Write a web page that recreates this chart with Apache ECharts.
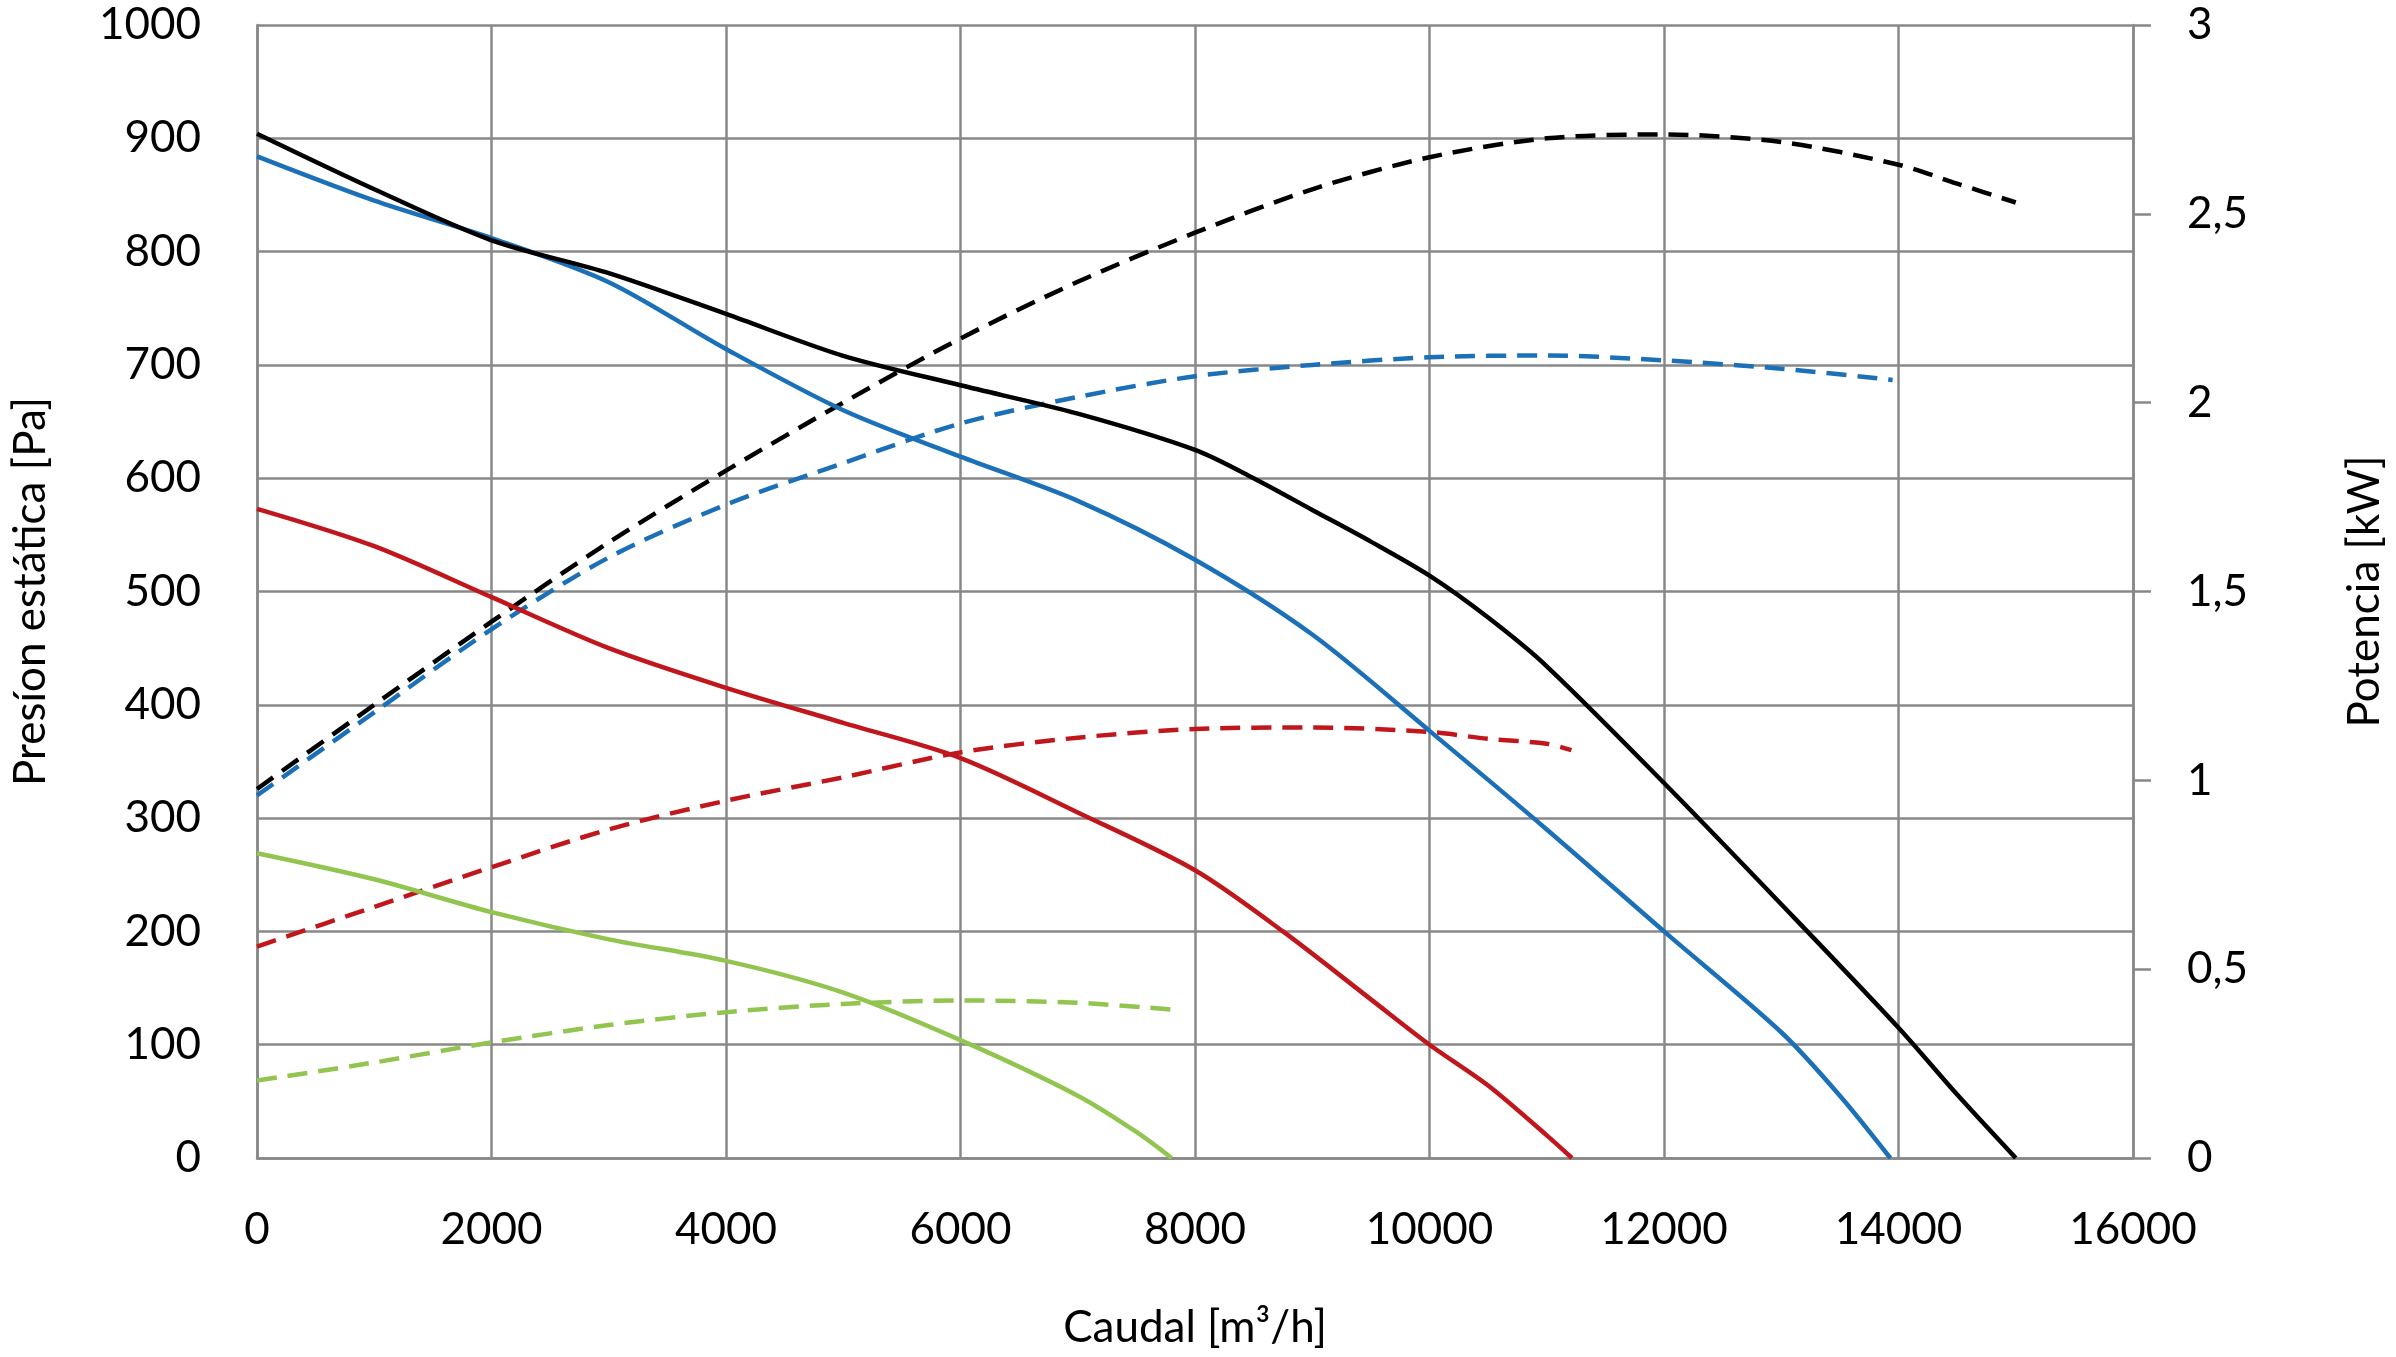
<!DOCTYPE html>
<html>
<head>
<meta charset="utf-8">
<script src="https://cdn.jsdelivr.net/npm/echarts@6/dist/echarts.min.js"></script>
<style>
  html, body { margin: 0; padding: 0; background: #fff; }
  #chart { width: 2396px; height: 1357px; }
</style>
</head>
<body>
<div id="chart"></div>
<script>
// ---- Data (flow in m3/h) ----
// Static pressure curves [Pa] (left axis)
const blackPFlow = [0, 1000, 2000, 3000, 4000, 5000, 6000, 7000, 8000, 8500, 9000, 9500, 10000, 10500, 11000, 12000, 13000, 14000, 14500, 15000];
const blackP     = [904, 855, 810, 781, 745, 708, 682, 657, 625, 600, 572, 544, 514, 477, 434, 331, 224, 115, 56, 0];

const bluePFlow = [0, 1000, 2000, 3000, 4000, 5000, 6000, 7000, 8000, 9000, 10000, 11000, 12000, 13000, 13500, 13930];
const blueP     = [884, 845, 812, 773, 714, 660, 619, 580, 528, 462, 377, 290, 200, 111, 55, 0];

const redPFlow = [0, 1000, 2000, 3000, 4000, 5000, 6000, 7000, 8000, 8750, 9500, 10000, 10500, 11000, 11215];
const redP     = [573, 540, 495, 450, 415, 384, 353, 305, 254, 200, 140, 100, 64, 20, 0];

const greenPFlow = [0, 1000, 2000, 3000, 4000, 5000, 6000, 7000, 7500, 7800];
const greenP     = [269, 246, 217, 193, 174, 146, 104, 55, 23, 0];

// Power curves [kW] (right axis)
const blackWFlow = [0, 1000, 2000, 3000, 4000, 5000, 6000, 7000, 8000, 9000, 10000, 11000, 12000, 13000, 14000, 14500, 15000];
const blackW     = [0.977, 1.20, 1.42, 1.63, 1.82, 2.00, 2.17, 2.32, 2.45, 2.565, 2.65, 2.70, 2.71, 2.69, 2.63, 2.58, 2.53];

const blueWFlow = [0, 1000, 2000, 3000, 4000, 5000, 6000, 7000, 8000, 9000, 10000, 11000, 12000, 13000, 13950];
const blueW     = [0.96, 1.18, 1.40, 1.59, 1.73, 1.84, 1.945, 2.015, 2.07, 2.10, 2.12, 2.125, 2.112, 2.09, 2.06];

const redWFlow = [0, 1000, 2000, 3000, 4000, 5000, 6000, 7000, 8000, 9000, 10000, 10500, 11000, 11210];
const redW     = [0.56, 0.665, 0.77, 0.87, 0.946, 1.008, 1.074, 1.113, 1.136, 1.14, 1.128, 1.11, 1.097, 1.08];

const greenWFlow = [0, 1000, 2000, 3000, 4000, 5000, 6000, 7000, 7800];
const greenW     = [0.205, 0.253, 0.306, 0.352, 0.386, 0.408, 0.417, 0.411, 0.393];

// Axis ticks
const xTicks = { min: 0, max: 16000, interval: 2000 };
const pTicks = { min: 0, max: 1000, interval: 100 };
const wTicks = { min: 0, max: 3, interval: 0.5 };

const COLORS = { black: '#000000', blue: '#1B70B8', red: '#C0171C', green: '#92C450' };
const FONT = 'Lato';

function pairs(xs, ys) { return xs.map((x, i) => [x, ys[i]]); }

function solid(name, color, xs, ys) {
  return {
    name, type: 'line', yAxisIndex: 0, data: pairs(xs, ys),
    smooth: 0.3, showSymbol: false, symbol: 'none',
    lineStyle: { color, width: 4.5, type: 'solid' }, z: 3
  };
}
function dashed(name, color, xs, ys) {
  return {
    name, type: 'line', yAxisIndex: 1, data: pairs(xs, ys),
    smooth: 0.3, showSymbol: false, symbol: 'none',
    lineStyle: { color, width: 4.5, type: [20, 11], cap: 'butt' }, z: 3
  };
}

const chart = echarts.init(document.getElementById('chart'), null, { renderer: 'canvas' });
const gridColor = '#888888';
chart.setOption({
  animation: false,
  backgroundColor: '#ffffff',
  grid: { left: 257, right: 263, top: 25, bottom: 199, containLabel: false },
  xAxis: {
    type: 'value', min: xTicks.min, max: xTicks.max, interval: xTicks.interval,
    name: 'Caudal [m³/h]', nameLocation: 'middle', nameGap: 148,
    nameTextStyle: { fontFamily: FONT, fontSize: 44, color: '#000' },
    axisLine: { show: true, lineStyle: { color: gridColor, width: 2.5 } },
    axisTick: { show: false },
    axisLabel: { fontFamily: FONT, fontSize: 44, color: '#000', margin: 50, formatter: v => String(v) },
    splitLine: { show: true, lineStyle: { color: gridColor, width: 2.5 } }
  },
  yAxis: [
    {
      type: 'value', position: 'left', min: pTicks.min, max: pTicks.max, interval: pTicks.interval,
      name: 'Presíon estática [Pa]', nameLocation: 'middle', nameGap: 204, nameRotate: 90,
      nameTextStyle: { fontFamily: FONT, fontSize: 44, color: '#000' },
      axisLine: { show: true, lineStyle: { color: gridColor, width: 2.5 } },
      axisTick: { show: false },
      axisLabel: { fontFamily: FONT, fontSize: 44, color: '#000', margin: 56, formatter: v => String(v) },
      splitLine: { show: true, lineStyle: { color: gridColor, width: 2.5 } }
    },
    {
      type: 'value', position: 'right', min: wTicks.min, max: wTicks.max, interval: wTicks.interval,
      name: 'Potencia [kW]', nameLocation: 'middle', nameGap: 210, nameRotate: 90,
      nameTextStyle: { fontFamily: FONT, fontSize: 44, color: '#000' },
      axisLine: { show: true, lineStyle: { color: gridColor, width: 2.5 } },
      axisTick: { show: true, inside: false, length: 18, lineStyle: { color: gridColor, width: 2.5 } },
      axisLabel: {
        fontFamily: FONT, fontSize: 44, color: '#000', margin: 54,
        formatter: v => String(v).replace('.', ',')
      },
      splitLine: { show: false }
    }
  ],
  series: [
    dashed('Potencia verde', COLORS.green, greenWFlow, greenW),
    dashed('Potencia roja', COLORS.red, redWFlow, redW),
    dashed('Potencia azul', COLORS.blue, blueWFlow, blueW),
    dashed('Potencia negra', COLORS.black, blackWFlow, blackW),
    solid('Presión verde', COLORS.green, greenPFlow, greenP),
    solid('Presión roja', COLORS.red, redPFlow, redP),
    solid('Presión azul', COLORS.blue, bluePFlow, blueP),
    solid('Presión negra', COLORS.black, blackPFlow, blackP)
  ]
});
</script>
</body>
</html>
